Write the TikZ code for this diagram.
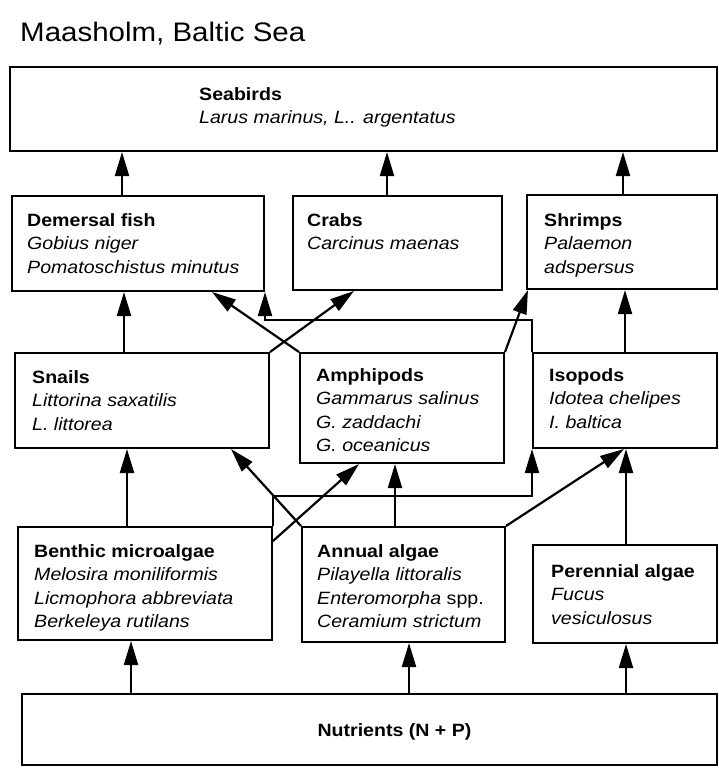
\documentclass[tikz,border=0pt]{standalone}
\usepackage{fontspec}
\setmainfont{Liberation Sans}[FakeStretch=1.1]
\usetikzlibrary{arrows.meta,calc}
\newcommand\txtlines[1]{\begin{tabular}[t]{@{}l@{}}#1\end{tabular}}
\begin{document}
\begin{tikzpicture}[x=1pt,y=-1pt,
  box/.style={draw, line width=2pt, inner sep=0pt, rectangle},
  lbl/.style={anchor=base west, inner sep=0pt, font=\fontsize{17.8}{23.5}\selectfont},
  conn/.style={line width=2.2pt, -{Triangle[length=24pt,width=14pt]}},
  ttl/.style={anchor=base west, inner sep=0pt, font=\fontsize{26.8}{30}\selectfont}]
\useasboundingbox (0,0) rectangle (719,771);

\node[ttl] (title) at (20,41) {Maasholm, Baltic Sea};

% boxes
\node[box, minimum width=707pt, minimum height=84pt] (sea) at (363.5,109) {};
\node[box, minimum width=252pt, minimum height=95pt] (dem) at (138,243.5) {};
\node[box, minimum width=209pt, minimum height=94pt] (crab) at (397.5,243) {};
\node[box, minimum width=190pt, minimum height=94pt] (shr) at (622,242) {};
\node[box, minimum width=254pt, minimum height=95pt] (snl) at (142,400.5) {};
\node[box, minimum width=204pt, minimum height=110pt] (amp) at (402,408) {};
\node[box, minimum width=184pt, minimum height=95pt] (iso) at (625,400.5) {};
\node[box, minimum width=254pt, minimum height=113pt] (ben) at (145,583.5) {};
\node[box, minimum width=203pt, minimum height=115pt] (ann) at (403.5,584.5) {};
\node[box, minimum width=184pt, minimum height=98pt] (per) at (625,594) {};
\node[box, minimum width=695pt, minimum height=71pt] (nut) at (369.5,729.5) {};

% texts
\node[lbl] (seaT) at ([xshift=190pt,yshift=-34pt]sea.north west)
  {\txtlines{\textbf{Seabirds}\\ \textit{Larus marinus, L.. argentatus}}};
\node[lbl] (demT) at ([xshift=16pt,yshift=-31pt]dem.north west)
  {\txtlines{\textbf{Demersal fish}\\ \textit{Gobius niger}\\ \textit{Pomatoschistus minutus}}};
\node[lbl] (crabT) at ([xshift=15pt,yshift=-31pt]crab.north west)
  {\txtlines{\textbf{Crabs}\\ \textit{Carcinus maenas}}};
\node[lbl] (shrT) at ([xshift=18pt,yshift=-32pt]shr.north west)
  {\txtlines{\textbf{Shrimps}\\ \textit{Palaemon}\\ \textit{adspersus}}};
\node[lbl] (snlT) at ([xshift=18pt,yshift=-31pt]snl.north west)
  {\txtlines{\textbf{Snails}\\ \textit{Littorina saxatilis}\\ \textit{L. littorea}}};
\node[lbl] (ampT) at ([xshift=17pt,yshift=-29pt]amp.north west)
  {\txtlines{\textbf{Amphipods}\\ \textit{Gammarus salinus}\\ \textit{G. zaddachi}\\ \textit{G. oceanicus}}};
\node[lbl] (isoT) at ([xshift=17pt,yshift=-29pt]iso.north west)
  {\txtlines{\textbf{Isopods}\\ \textit{Idotea chelipes}\\ \textit{I. baltica}}};
\node[lbl] (benT) at ([xshift=17pt,yshift=-31pt]ben.north west)
  {\txtlines{\textbf{Benthic microalgae}\\ \textit{Melosira moniliformis}\\ \textit{Licmophora abbreviata}\\ \textit{Berkeleya rutilans}}};
\node[lbl] (annT) at ([xshift=16pt,yshift=-31pt]ann.north west)
  {\txtlines{\textbf{Annual algae}\\ \textit{Pilayella littoralis}\\ \textit{Enteromorpha} spp.\\ \textit{Ceramium strictum}}};
\node[lbl] (perT) at ([xshift=19pt,yshift=-33pt]per.north west)
  {\txtlines{\textbf{Perennial algae}\\ \textit{Fucus}\\ \textit{vesiculosus}}};
\node[inner sep=0pt, font=\fontsize{17.8}{23.5}\selectfont\bfseries] (nutT) at ([xshift=25pt,yshift=-2pt]nut.center) {Nutrients (N + P)};

% connectors to seabirds
\draw[conn] ([xshift=111pt]dem.north west) -- ([xshift=113pt]sea.south west);
\draw[conn] ([xshift=95pt]crab.north west) -- ([xshift=378pt]sea.south west);
\draw[conn] ([xshift=97pt]shr.north west) -- ([xshift=614pt]sea.south west);

% level 3 -> level 2
\draw[conn] ([xshift=110pt]snl.north west) -- ([xshift=113pt]dem.south west);
\draw[conn] (snl.north east) -- ([xshift=62pt]crab.south west);
\draw[conn] (amp.north west) -- ([xshift=201pt]dem.south west);
\draw[conn] (iso.north west) -- ++(0,-32) -| (dem.south east);
\draw[conn] (amp.north east) -- ([xshift=2pt]shr.south west);
\draw[conn] ([xshift=93pt]iso.north west) -- ([xshift=99pt]shr.south west);

% level 4 -> level 3
\draw[conn] ([xshift=110pt]ben.north west) -- ([xshift=113pt]snl.south west);
\draw[conn] ([yshift=-15pt]ben.north east) -- ([xshift=60pt]amp.south west);
\draw[conn] (ben.north east) -- ++(0,-30) -| (iso.south west);
\draw[conn] (ann.north west) -- ([xshift=-39pt]snl.south east);
\draw[conn] ([xshift=94pt]ann.north west) -- ([xshift=96pt]amp.south west);
\draw[conn] (ann.north east) -- ([xshift=92pt]iso.south west);
\draw[conn] ([xshift=94pt]per.north west) -- ([xshift=94pt]iso.south west);

% nutrients -> producers
\draw[conn] ([xshift=110pt]nut.north west) -- ([xshift=114pt]ben.south west);
\draw[conn] ([xshift=388pt]nut.north west) -- ([xshift=108pt]ann.south west);
\draw[conn] ([xshift=605pt]nut.north west) -- ([xshift=94pt]per.south west);
\end{tikzpicture}
\end{document}
